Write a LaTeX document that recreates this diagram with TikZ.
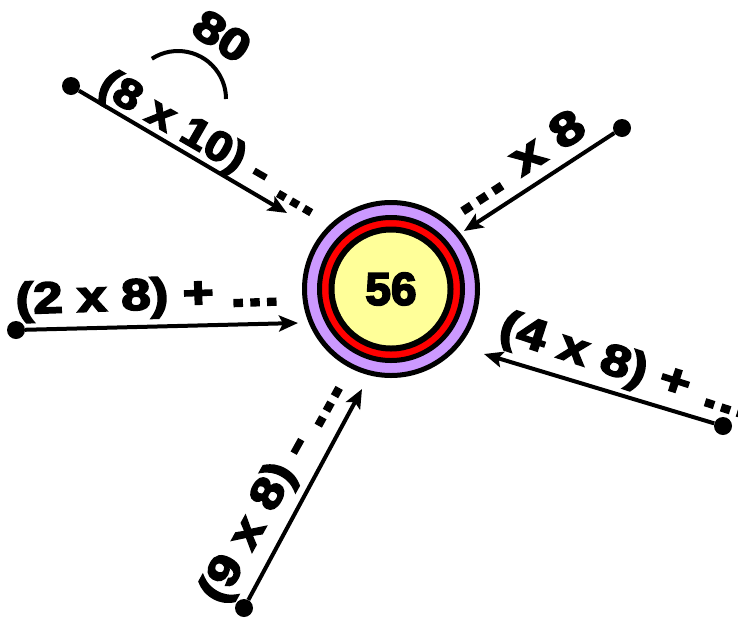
\documentclass[tikz,border=0pt]{standalone}
\usepackage{fontspec}
\setmainfont{Liberation Sans}
\newfontfamily\heavy[FakeBold=4]{Liberation Sans Bold}
\usepackage{tikz}
\usetikzlibrary{arrows.meta,positioning}
\definecolor{ringpurple}{HTML}{CC99FF}
\definecolor{ringred}{HTML}{FF0000}
\definecolor{hubyellow}{HTML}{FFFF99}
\newcommand{\widen}[2][1.2]{\scalebox{#1}[1]{#2}}

\begin{document}
\begin{tikzpicture}[
    x=1pt, y=-1pt,
    hub/.style={circle, draw, line width=6pt, fill=hubyellow, minimum size=119pt, inner sep=0pt, font=\heavy\fontsize{46}{48}\selectfont},
    tail/.style={circle, fill=black, inner sep=0pt, minimum size=18pt},
    link/.style={-{Stealth[length=19pt, width=16pt, inset=4pt]}, line width=4pt},
    lbl/.style={inner sep=0pt, anchor=base west, font=\heavy\fontsize{44}{46}\selectfont}
]
\useasboundingbox (0,0) rectangle (738,619);

% Center
\coordinate (c) at (391,289);
\draw[line width=5pt, fill=ringpurple] (c) circle (86.5pt);
\draw[line width=5pt, fill=ringred] (c) circle (71.5pt);
\node[hub] (ctr) at (c) {56};

% Top left
\node[tail] (d1) at (71,86) {};
\coordinate (t1) at (287,213);
\draw[link] (d1) -- (t1);
\node[lbl, rotate=-30, font=\heavy\fontsize{42}{44}\selectfont] (l1) at (96,92) {\widen[1.12]{(8 x 10) - …}};
\draw[line width=4pt] (178,99) ++(237:48) arc[start angle=237, end angle=360, radius=48];
\node[inner sep=0pt, rotate=-33, font=\heavy\fontsize{44}{46}\selectfont] (l80) at (222,36) {\widen{80}};

% Top right
\node[tail] (d2) at (622,128) {};
\coordinate (t2) at (464,231);
\draw[link] (d2) -- (t2);
\node[lbl, rotate=33, font=\heavy\fontsize{46}{48}\selectfont] (l2) at (460,217) {\widen[1.25]{… x 8}};

% Left
\node[tail] (d3) at (16,330) {};
\coordinate (t3) at (298,323);
\draw[link] (d3) -- (t3);
\node[lbl, rotate=2] (l3) at (16,314) {\widen{(2 x 8) + …}};

% Right
\node[tail] (d4) at (723,426) {};
\coordinate (t4) at (484,354);
\draw[link] (d4) -- (t4);
\node[lbl, rotate=-18] (l4) at (497,338) {\widen{(4 x 8) + …}};

% Bottom
\node[tail] (d5) at (244,608) {};
\coordinate (t5) at (362,389);
\draw[link] (d5) -- (t5);
\node[lbl, rotate=61] (l5) at (222,606) {\widen{(9 x 8) - …}};

\end{tikzpicture}
\end{document}
